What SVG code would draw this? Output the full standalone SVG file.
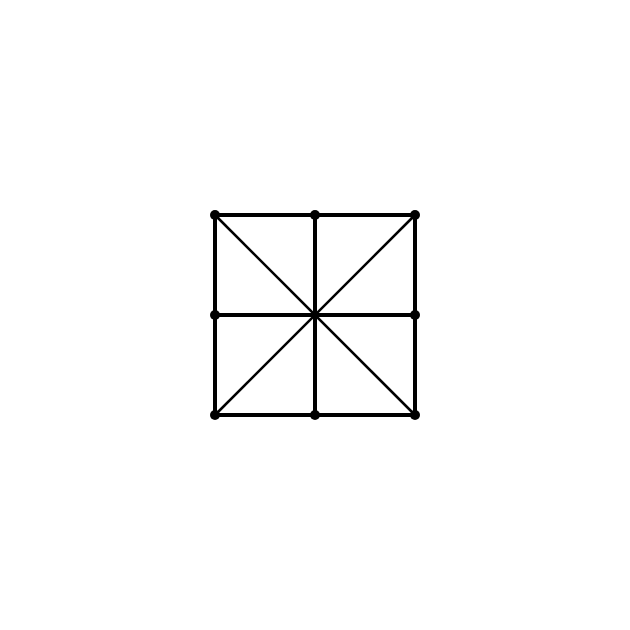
<svg xmlns="http://www.w3.org/2000/svg" width="630" height="630" viewBox="0 0 630 630">
<style>
.g{stroke:#000;stroke-width:4;fill:none;stroke-linecap:butt}
.d{stroke:#000;stroke-width:2.5;fill:none}
.n{fill:#000}
</style>
<rect width="630" height="630" fill="#fff"/>
<g id="connectors">
<line class="d" x1="215" y1="215" x2="415" y2="415"/>
<line class="d" x1="415" y1="215" x2="215" y2="415"/>
<line class="g" x1="215" y1="215" x2="415" y2="215"/>
<line class="g" x1="215" y1="315" x2="415" y2="315"/>
<line class="g" x1="215" y1="415" x2="415" y2="415"/>
<line class="g" x1="215" y1="215" x2="215" y2="415"/>
<line class="g" x1="315" y1="215" x2="315" y2="415"/>
<line class="g" x1="415" y1="215" x2="415" y2="415"/>
</g>
<g id="n1"><circle class="n" cx="215" cy="215" r="5"/></g>
<g id="n2"><circle class="n" cx="315" cy="215" r="5"/></g>
<g id="n3"><circle class="n" cx="415" cy="215" r="5"/></g>
<g id="n4"><circle class="n" cx="215" cy="315" r="5"/></g>
<g id="n5"><circle class="n" cx="415" cy="315" r="5"/></g>
<g id="n6"><circle class="n" cx="215" cy="415" r="5"/></g>
<g id="n7"><circle class="n" cx="315" cy="415" r="5"/></g>
<g id="n8"><circle class="n" cx="415" cy="415" r="5"/></g>
</svg>
